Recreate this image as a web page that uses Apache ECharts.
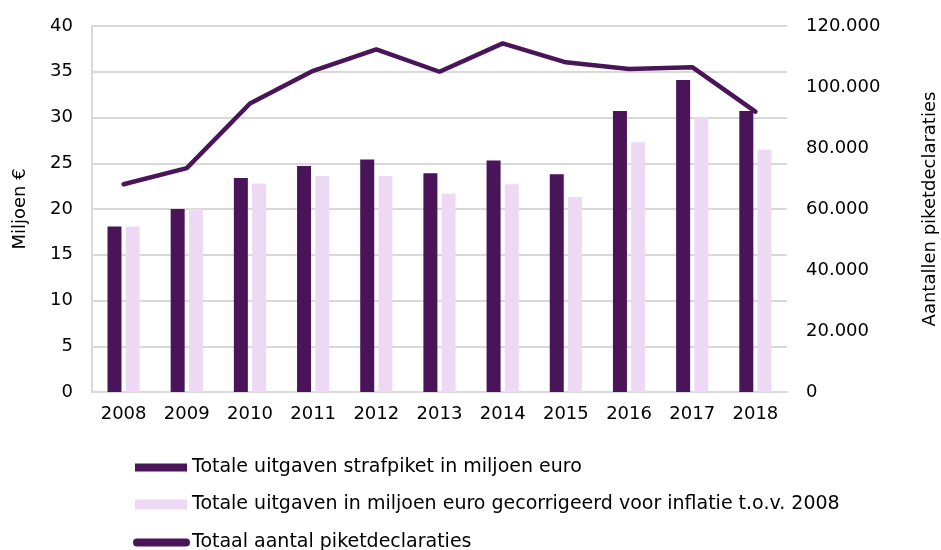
<!DOCTYPE html>
<html><head><meta charset="utf-8">
<script src="https://cdn.jsdelivr.net/npm/echarts@6/dist/echarts.min.js"></script>
<style>html,body{margin:0;padding:0;background:#fff}#c{width:941px;height:550px}</style>
</head><body><div id="c"></div>
<script>
const years = ['2008','2009','2010','2011','2012','2013','2014','2015','2016','2017','2018'];
const uitgaven = [18.1, 20.0, 23.4, 24.7, 25.4, 23.9, 25.3, 23.8, 30.7, 34.1, 30.7];
const gecorrigeerd = [18.1, 20.0, 22.8, 23.6, 23.6, 21.7, 22.7, 21.3, 27.3, 30.0, 26.5];
const declaraties = [68100, 73400, 94600, 105300, 112300, 105000, 114300, 108100, 105900, 106500, 91900];
const leftTicks = {min: 0, max: 40, interval: 5};
const rightTicks = {min: 0, max: 120000, interval: 20000};
const names = ['Totale uitgaven strafpiket in miljoen euro','Totale uitgaven in miljoen euro gecorrigeerd voor inflatie t.o.v. 2008','Totaal aantal piketdeclaraties'];

const dark = '#4a1558', light = '#eed9f5';
const font = 'DejaVu Sans';
const fs = 18;
const legendText = {fontSize: 19, color: '#000', fontFamily: font};
const chart = echarts.init(document.getElementById('c'));
chart.setOption({
  animation: false,
  textStyle: {fontFamily: font},
  grid: {left: 92, right: 154, top: 26, bottom: 158, outerBoundsMode: 'none', containLabel: false},
  legend: [
    {left: 135, top: 458, padding: 0, itemWidth: 52, itemHeight: 8, textStyle: legendText,
     data: [{name: names[0], icon: 'rect'}]},
    {left: 135, top: 495, padding: 0, itemWidth: 52, itemHeight: 10, textStyle: legendText,
     data: [{name: names[1], icon: 'rect'}]},
    {left: 133, top: 533, padding: 0, itemWidth: 57, itemHeight: 8, textStyle: {...legendText, padding: [0,0,0,-3]},
     data: [{name: names[2], icon: 'path://M4,0 H53 A4,4 0 0 1 53,8 H4 A4,4 0 0 1 4,0 Z'}]}
  ],
  xAxis: {
    type: 'category', data: years,
    axisLine: {lineStyle: {color: '#d9d9d9', width: 2}},
    axisTick: {show: false},
    axisLabel: {color: '#000', fontSize: fs, margin: 13}
  },
  yAxis: [
    {type: 'value', ...leftTicks, name: 'Miljoen €', nameLocation: 'middle', nameRotate: 90, nameGap: 63,
     nameTextStyle: {fontSize: fs, color: '#000'},
     axisLine: {show: true, lineStyle: {color: '#d9d9d9', width: 2}},
     splitLine: {lineStyle: {color: '#d9d9d9', width: 2}},
     axisLabel: {color: '#000', fontSize: fs, margin: 19}},
    {type: 'value', ...rightTicks, name: 'Aantallen piketdeclaraties', nameLocation: 'middle', nameRotate: 90, nameGap: 134,
     nameTextStyle: {fontSize: fs, color: '#000'},
     axisLine: {show: false}, splitLine: {show: false},
     axisLabel: {color: '#000', fontSize: fs, margin: 19,
       formatter: v => String(v).replace(/\B(?=(\d{3})+(?!\d))/g, '.')}}
  ],
  series: [
    {name: names[0], type: 'bar', data: uitgaven, barWidth: 14, barGap: '30%', itemStyle: {color: dark}},
    {name: names[1], type: 'bar', data: gecorrigeerd, barWidth: 14, barGap: '30%', itemStyle: {color: light}},
    {name: names[2], type: 'line', yAxisIndex: 1, data: declaraties, symbol: 'none',
     lineStyle: {color: dark, width: 4.5, cap: 'round'}, itemStyle: {color: dark}}
  ]
});
</script></body></html>
